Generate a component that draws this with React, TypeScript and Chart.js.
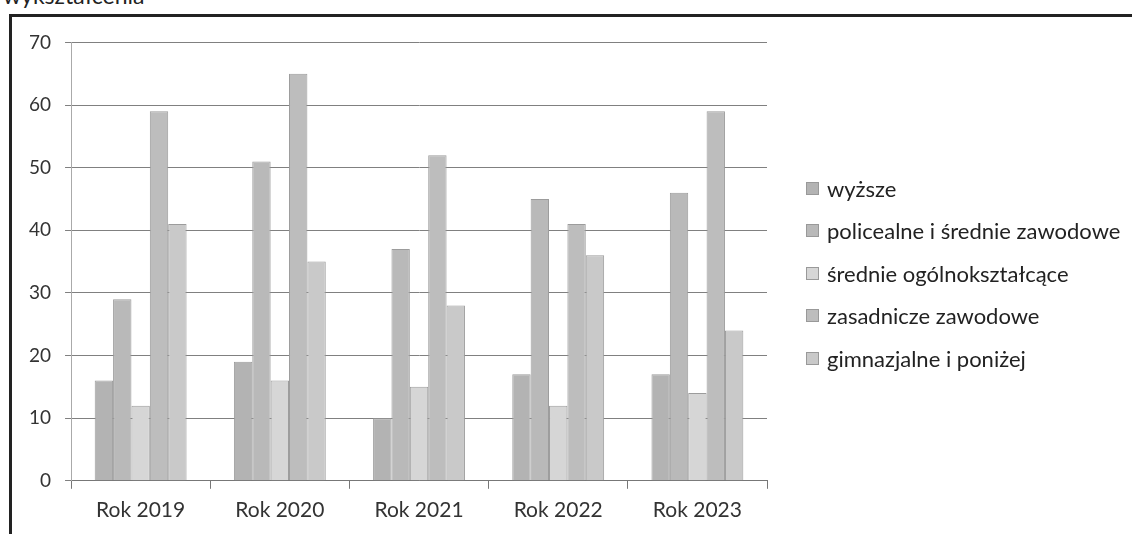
import React, { useEffect, useRef } from "react";
import { Chart, registerables } from "chart.js";

Chart.register(...registerables);

const categories = ["Rok 2019", "Rok 2020", "Rok 2021", "Rok 2022", "Rok 2023"];
const seriesNames = [
  "wyższe",
  "policealne i średnie zawodowe",
  "średnie ogólnokształcące",
  "zasadnicze zawodowe",
  "gimnazjalne i poniżej",
];
const wyzsze = [16, 19, 10, 17, 17];
const policealne = [29, 51, 37, 45, 46];
const srednieOgolne = [12, 16, 15, 12, 14];
const zasadnicze = [59, 65, 52, 41, 59];
const gimnazjalne = [41, 35, 28, 36, 24];
const seriesColors = ["#b3b3b3", "#b9b9b9", "#d6d6d6", "#bdbdbd", "#c9c9c9"];
const yMax = 70;
const yStep = 10;

const FONT = "Lato, 'Open Sans', sans-serif";

export default function App() {
  const ref = useRef<HTMLCanvasElement | null>(null);
  useEffect(() => {
    if (!ref.current) return;
    const values = [wyzsze, policealne, srednieOgolne, zasadnicze, gimnazjalne];
    const chart = new Chart(ref.current, {
      type: "bar",
      data: {
        labels: categories,
        datasets: seriesNames.map((name, i) => ({
          label: name,
          data: values[i],
          backgroundColor: seriesColors[i],
          borderColor: "#9c9c9c",
          borderWidth: 1,
          categoryPercentage: 0.66,
          barPercentage: 1.0,
        })),
      },
      options: {
        animation: false,
        responsive: false,
        maintainAspectRatio: false,
        devicePixelRatio: 1,
        layout: { padding: { top: 11, left: 3, right: 365, bottom: 2 } },
        plugins: {
          tooltip: { enabled: false },
          legend: { display: false },
        },
        scales: {
          x: {
            grid: {
              display: true,
              drawOnChartArea: false,
              drawTicks: true,
              tickLength: 8,
              color: "#777",
              offset: true,
            },
            border: { color: "#777", width: 1 },
            ticks: {
              font: { family: FONT, size: 21 },
              color: "#333",
              padding: 9,
            },
          },
          y: {
            min: 0,
            max: yMax,
            ticks: {
              stepSize: yStep,
              font: { family: FONT, size: 19 },
              color: "#333",
              padding: 14,
            },
            grid: {
              color: "#808080",
              lineWidth: 1,
              tickLength: 6,
            },
            border: { color: "#aaa", width: 1 },
          },
        },
      },
    });
    return () => chart.destroy();
  }, []);

  return (
    <div
      style={{
        position: "fixed",
        left: 0,
        top: 0,
        width: 1132,
        height: 534,
        background: "#fff",
        overflow: "hidden",
      }}
    >
      <div
        style={{
          position: "absolute",
          left: 3,
          top: -19,
          fontFamily: FONT,
          fontSize: 23,
          color: "#222",
          whiteSpace: "nowrap",
        }}
      >
        wykształcenia
      </div>
      <div
        style={{
          position: "absolute",
          left: 9,
          top: 14,
          width: 1140,
          height: 540,
          borderTop: "3px solid #222",
          borderLeft: "3px solid #222",
        }}
      />
      <canvas
        ref={ref}
        width={1120}
        height={517}
        style={{ position: "absolute", left: 12, top: 17, width: 1120, height: 517 }}
      />
      <div style={{ position: "absolute", left: 806, top: 167 }}>
        {seriesNames.map((name, i) => (
          <div
            key={name}
            style={{
              display: "flex",
              alignItems: "center",
              height: 42.5,
              fontFamily: FONT,
              fontSize: 22,
              color: "#222",
              whiteSpace: "nowrap",
            }}
          >
            <span
              style={{
                display: "inline-block",
                width: 11,
                height: 11,
                background: seriesColors[i],
                border: "1px solid #999",
                marginRight: 8,
              }}
            />
            {name}
          </div>
        ))}
      </div>
    </div>
  );
}
